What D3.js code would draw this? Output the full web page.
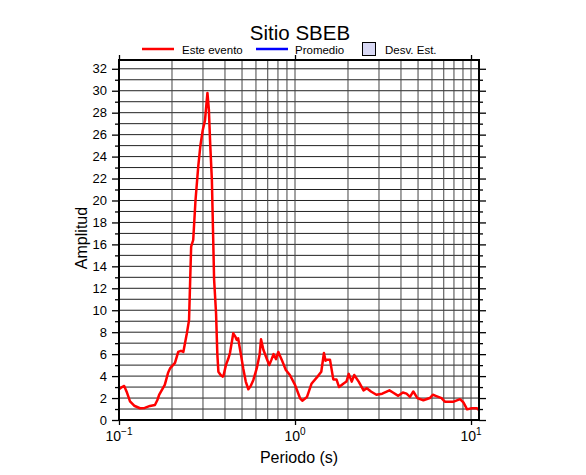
<!DOCTYPE html>
<html>
<head>
<meta charset="utf-8">
<script src="https://cdn.jsdelivr.net/npm/d3@7"></script>
<style>
  body { margin: 0; background: #fff; }
  text { font-family: "Liberation Sans", Arial, sans-serif; fill: #000; }
</style>
</head>
<body>
<svg width="586" height="475"></svg>
<script>
// Data
var periods = [0.100, 0.104, 0.107, 0.111, 0.1155, 0.122, 0.1316, 0.140, 0.150, 0.160,
  0.165, 0.169, 0.182, 0.190, 0.195, 0.208, 0.217, 0.225, 0.232, 0.243,
  0.250, 0.254, 0.257, 0.264, 0.272, 0.282, 0.290, 0.299, 0.308, 0.318,
  0.324, 0.330, 0.337, 0.347, 0.356, 0.362, 0.367, 0.378, 0.388, 0.392,
  0.405, 0.418, 0.427, 0.446, 0.458, 0.466, 0.475, 0.490, 0.508, 0.525,
  0.543, 0.560, 0.580, 0.606, 0.630, 0.641, 0.661, 0.690, 0.714, 0.735,
  0.755, 0.780, 0.804, 0.840, 0.887, 0.935, 1.00, 1.067, 1.10, 1.17,
  1.24, 1.35, 1.41, 1.46, 1.49, 1.52, 1.58, 1.65, 1.72, 1.78,
  1.88, 1.96, 2.02, 2.10, 2.17, 2.30, 2.45, 2.56, 2.70, 2.90,
  3.13, 3.44, 3.60, 3.86, 4.10, 4.30, 4.50, 4.70, 4.96, 5.36,
  5.83, 6.07, 6.30, 6.80, 7.10, 7.97, 8.66, 9.05, 9.50, 10.07,
  10.80, 11.1];
var amplitudes = [2.8, 3.0, 3.1, 2.5, 1.7, 1.3, 1.07, 1.1, 1.28, 1.37,
  1.8, 2.28, 3.2, 4.3, 4.7, 5.2, 6.2, 6.3, 6.2, 7.9,
  9.1, 13.0, 15.8, 16.4, 20.0, 23.1, 25.0, 26.4, 27.3, 29.8,
  28.3, 25.0, 21.9, 12.8, 9.7, 6.0, 4.4, 4.1, 3.95, 4.0,
  5.0, 5.6, 6.1, 7.9, 7.6, 7.3, 7.45, 6.2, 4.7, 3.5,
  2.8, 3.1, 3.65, 4.7, 6.0, 7.35, 6.4, 5.6, 5.0, 5.5,
  6.0, 5.55, 6.2, 5.5, 4.55, 4.1, 3.2, 2.0, 1.76, 2.1,
  3.3, 4.0, 4.4, 6.1, 5.4, 5.5, 5.5, 3.7, 3.7, 3.0,
  3.3, 3.5, 4.2, 3.5, 4.1, 3.5, 2.7, 2.9, 2.6, 2.3,
  2.4, 2.7, 2.5, 2.2, 2.5, 2.4, 2.1, 2.6, 2.0, 1.8,
  2.0, 2.3, 2.2, 2.0, 1.67, 1.67, 1.9, 1.6, 0.97, 1.07,
  1.07, 0.9];
var yMajorTicks = d3.range(0, 33, 2);
var yMinorTicks = d3.range(1, 33, 2);
var xDecades = [0.1, 1, 10];
var xGridTicks = [0.2, 0.3, 0.4, 0.5, 0.6, 0.7, 0.8, 0.9, 1, 2, 3, 4, 5, 6, 7, 8, 9, 10];
var superscripts = ["\u22121", "0", "1"];
var legendItems = ["Este evento", "Promedio", "Desv. Est."];

var svg = d3.select("svg");
var margin = {left: 119, top: 60, right: 107, bottom: 55};
var w = 586 - margin.left - margin.right,
  h = 475 - margin.top - margin.bottom;

var x = d3.scaleLog().domain([0.1, 11.1]).range([0, w]);
var y = d3.scaleLinear().domain([0, 32.8]).range([h, 0]);

var g = svg.append("g").attr("transform", "translate(" + margin.left + "," + margin.top + ")");

// grid
g.append("g").selectAll("line.hg")
  .data(d3.range(1, 33))
  .enter().append("line")
  .attr("x1", 0).attr("x2", w)
  .attr("y1", function(d) { return y(d); })
  .attr("y2", function(d) { return y(d); })
  .attr("stroke", "#222").attr("stroke-width", 1);

g.append("g").selectAll("line.vg")
  .data(xGridTicks)
  .enter().append("line")
  .attr("y1", 0).attr("y2", h)
  .attr("x1", function(d) { return x(d); })
  .attr("x2", function(d) { return x(d); })
  .attr("stroke", "#444").attr("stroke-width", 1);

// axes ticks
var yl = g.append("g").call(d3.axisLeft(y).tickValues(yMajorTicks).tickSize(7).tickPadding(5));
g.append("g").call(d3.axisLeft(y).tickValues(yMinorTicks).tickSize(4).tickFormat(""));
g.append("g").attr("transform", "translate(" + w + ",0)")
  .call(d3.axisRight(y).tickValues(yMajorTicks).tickSize(7).tickFormat(""));
g.append("g").attr("transform", "translate(" + w + ",0)")
  .call(d3.axisRight(y).tickValues(yMinorTicks).tickSize(4).tickFormat(""));
g.append("g").call(d3.axisTop(x).tickValues(xDecades).tickSize(5).tickFormat(""));
var xl = g.append("g").attr("transform", "translate(0," + h + ")")
  .call(d3.axisBottom(x).tickValues(xDecades).tickSize(5).tickFormat(""));

g.selectAll(".domain").remove();
g.selectAll(".tick line").attr("stroke", "#000").attr("stroke-width", 1.3);
yl.selectAll("text").attr("font-size", 13).attr("font-family", "Liberation Sans, Arial, sans-serif");

// x tick labels with superscripts
var xt = g.append("g").selectAll("text.xl")
  .data(xDecades)
  .enter().append("text")
  .attr("x", function(d) { return x(d); })
  .attr("y", h + 21)
  .attr("text-anchor", "middle")
  .attr("font-size", 14);
xt.append("tspan").text("10");
xt.append("tspan").attr("dy", -6).attr("font-size", 10)
  .text(function(d, i) { return superscripts[i]; });

// curve
var line = d3.line()
  .x(function(d) { return x(d[0]); })
  .y(function(d) { return y(d[1]); });
g.append("path")
  .datum(d3.zip(periods, amplitudes))
  .attr("d", line)
  .attr("fill", "none")
  .attr("stroke", "#ff0000")
  .attr("stroke-width", 2.5)
  .attr("stroke-linejoin", "round");

// frame
g.append("rect")
  .attr("width", w).attr("height", h)
  .attr("fill", "none").attr("stroke", "#000").attr("stroke-width", 2);

// titles
svg.append("text").attr("x", 300).attr("y", 40).attr("text-anchor", "middle")
  .attr("font-size", 20.5).text("Sitio SBEB");
svg.append("text").attr("x", 299).attr("y", 463).attr("text-anchor", "middle")
  .attr("font-size", 16).text("Periodo (s)");
svg.append("text").attr("transform", "translate(87,238) rotate(-90)")
  .attr("text-anchor", "middle").attr("font-size", 16).text("Amplitud");

// legend
var lg = svg.append("g").attr("font-size", 11.5);
lg.append("line").attr("x1", 142).attr("x2", 174).attr("y1", 49).attr("y2", 49)
  .attr("stroke", "#ff0000").attr("stroke-width", 2.5);
lg.append("text").attr("x", 182).attr("y", 54).text(legendItems[0]);
lg.append("line").attr("x1", 256).attr("x2", 288).attr("y1", 49).attr("y2", 49)
  .attr("stroke", "#0000ff").attr("stroke-width", 2.5);
lg.append("text").attr("x", 295).attr("y", 54).text(legendItems[1]);
lg.append("rect").attr("x", 362.5).attr("y", 42.5).attr("width", 13).attr("height", 13)
  .attr("fill", "#d8d8f4").attr("stroke", "#000").attr("stroke-width", 1);
lg.append("text").attr("x", 385).attr("y", 54).text(legendItems[2]);
</script>
</body>
</html>
